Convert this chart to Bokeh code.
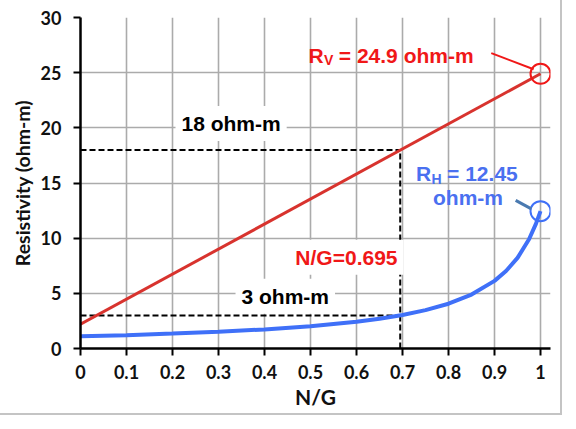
from bokeh.plotting import figure
from bokeh.models import Range1d, FixedTicker, Label
from bokeh.embed import file_html
from bokeh.resources import INLINE

# ---- data ----
ng_red = [0.0, 1.0]
rv_red = [2.2, 24.9]

ng_blue = [0.0, 0.1, 0.2, 0.3, 0.4, 0.5, 0.6, 0.65, 0.7, 0.75, 0.8, 0.85,
           0.9, 0.925, 0.95, 0.975, 0.99, 1.0]
rh_blue = [1.1, 1.21, 1.35, 1.51, 1.73, 2.02, 2.43, 2.70, 3.04, 3.48, 4.06,
           4.89, 6.13, 7.02, 8.21, 9.90, 11.29, 12.45]

ng_cut = 0.695
r_high = 18
r_low = 3
rv_end = 24.9
rh_end = 12.45

x_ticks = [0, 0.1, 0.2, 0.3, 0.4, 0.5, 0.6, 0.7, 0.8, 0.9, 1]
x_tick_labels = ["0", "0.1", "0.2", "0.3", "0.4", "0.5", "0.6", "0.7", "0.8", "0.9", "1"]
y_ticks = [0, 5, 10, 15, 20, 25, 30]
x_title = "N/G"
y_title = "Resistivity (ohm-m)"

RED_LINE = "#d8332e"
RED_TXT = "#f01818"
BLUE_LINE = "#3f70f8"
BLUE_TXT = "#4a70f0"

p = figure(width=560, height=413, output_backend="svg", toolbar_location=None,
           x_range=Range1d(0, 1.0217), y_range=Range1d(0, 30),
           min_border_left=80, min_border_right=10, min_border_top=17,
           min_border_bottom=65)
p.styles = {"outline": "2px solid #c4c4c4"}
p.outline_line_color = None

# grid
p.xgrid.ticker = FixedTicker(ticks=x_ticks)
p.ygrid.ticker = FixedTicker(ticks=y_ticks)
for g in (p.xgrid, p.ygrid):
    g.grid_line_color = "#ababab"
    g.grid_line_width = 1.6

# axes
p.xaxis.ticker = FixedTicker(ticks=x_ticks)
p.xaxis.major_label_overrides = {t: l for t, l in zip(x_ticks, x_tick_labels)}
p.yaxis.ticker = FixedTicker(ticks=y_ticks)
for ax in (p.xaxis, p.yaxis):
    ax.axis_line_color = "black"
    ax.axis_line_width = 2.5
    ax.major_tick_line_color = "black"
    ax.major_tick_line_width = 2
    ax.major_tick_in = 0
    ax.major_tick_out = 7
    ax.minor_tick_line_color = None
    ax.major_label_text_font = "Lato"
    ax.major_label_text_font_style = "bold"
    ax.major_label_text_font_size = "18px"
    ax.major_label_text_color = "#111111"
    ax.axis_label_text_font = "Lato"
    ax.axis_label_text_font_style = "bold"
    ax.axis_label_text_color = "#111111"
p.xaxis.major_label_standoff = 9
p.yaxis.major_label_standoff = 12
p.xaxis.axis_label = x_title
p.yaxis.axis_label = y_title
p.xaxis.axis_label_text_font_size = "21px"
p.yaxis.axis_label_text_font_size = "19.5px"
p.xaxis.axis_label_standoff = 2
p.yaxis.axis_label_standoff = 4

# dashed guide lines
p.line([0, ng_cut], [r_high, r_high], line_color="black", line_width=2, line_dash="6 3")
p.line([0, ng_cut], [r_low, r_low], line_color="black", line_width=2, line_dash="6 3")
p.line([ng_cut, ng_cut], [0, r_high], line_color="black", line_width=2, line_dash="6 3")

# curves
p.line(ng_red, rv_red, line_color=RED_LINE, line_width=3)
p.line(ng_blue, rh_blue, line_color=BLUE_LINE, line_width=4)

# end markers
p.scatter([1.0], [rv_end], size=20, marker="circle", fill_color=None,
          line_color=RED_TXT, line_width=2)
p.scatter([1.0], [rh_end], size=20, marker="circle", fill_color=None,
          line_color=BLUE_LINE, line_width=2)

# leader lines
p.line([0.893, 0.985], [26.77, 25.31], line_color=RED_TXT, line_width=2)
p.line([0.946, 0.980], [13.43, 12.65], line_color="#4a7ab0", line_width=3)

def lab(x, y, text, color, size="21px", align="left", xo=0, yo=0, bg=False, alpha=1.0):
    l = Label(x=x, y=y, text=text, text_color=color, text_font="Liberation Sans",
              text_font_style="bold", text_font_size=size, text_align=align,
              text_baseline="middle", x_offset=xo, y_offset=yo, text_alpha=alpha)
    if bg:
        l.background_fill_color = "white"
        l.padding = 6
    p.add_layout(l)

lab(0.2065, 20.4, "18 ohm-m", "black", bg=True)
lab(0.337, 4.73, "3 ohm-m", "black", bg=True)
lab(0.454, 8.26, "N/G=0.695", RED_TXT, bg=True)

# white backgrounds behind the subscripted labels
lab(0.4957, 26.6, "RV = 24.9 ohm-m", "white", bg=True, alpha=0.0)
lab(0.7293, 15.84, "RH = 12.45", "white", bg=True, alpha=0.0)

# R_V label pieces
lab(0.4957, 26.6, "R", RED_TXT)
lab(0.4957, 26.6, "V", RED_TXT, size="14px", xo=15.4, yo=-5)
lab(0.4957, 26.6, "= 24.9 ohm-m", RED_TXT, xo=30.3)

# R_H label pieces
lab(0.7293, 15.84, "R", BLUE_TXT)
lab(0.7293, 15.84, "H", BLUE_TXT, size="14px", xo=15.4, yo=-5)
lab(0.7293, 15.84, "= 12.45", BLUE_TXT, xo=31.1)
lab(0.8424, 13.69, "ohm-m", BLUE_TXT, align="center")

open("out.html", "w").write(file_html(p, INLINE))
